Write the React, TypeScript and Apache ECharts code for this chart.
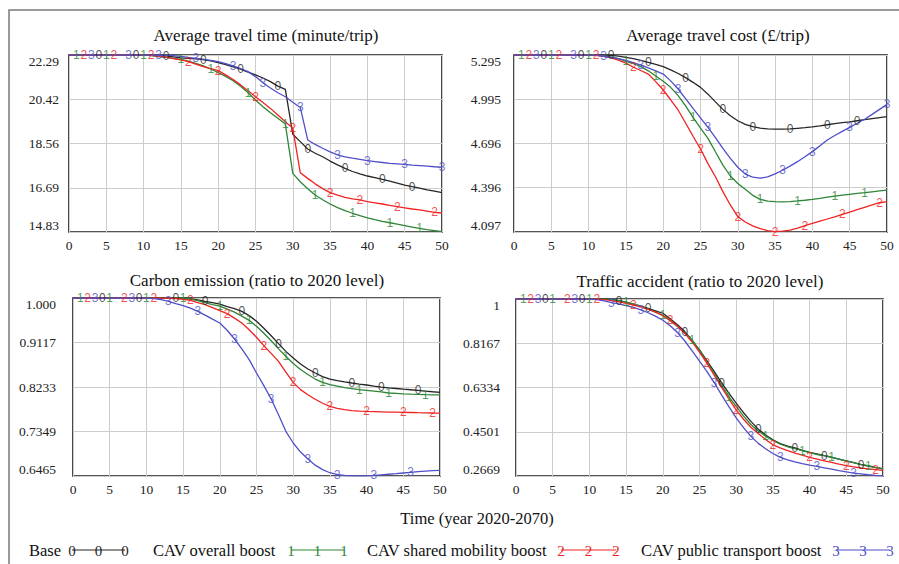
import React, { useEffect, useRef } from 'react';
import * as echarts from 'echarts';

const FONT_SERIF = 'Liberation Serif';
const FONT_SANS = 'Liberation Sans';

const years = Array.from({ length: 51 }, (_, i) => i);

// Average travel time (minute/trip)
const timeBase = [22.29, 22.29, 22.29, 22.29, 22.29, 22.29, 22.29, 22.29, 22.29, 22.29, 22.29, 22.29, 22.29,
  22.25, 22.21, 22.17, 22.15, 22.13, 22.10, 22.04, 21.97, 21.88, 21.79, 21.69, 21.57, 21.45, 21.32, 21.17, 20.98, 20.84,
  18.95, 18.64, 18.33, 18.15, 18.00, 17.82, 17.66, 17.51, 17.38, 17.28, 17.19, 17.12, 17.05, 16.97, 16.89, 16.81, 16.74,
  16.68, 16.61, 16.55, 16.49];
const timeOverall = [22.29, 22.29, 22.29, 22.29, 22.29, 22.29, 22.29, 22.29, 22.29, 22.29, 22.29,
  22.26, 22.22, 22.19, 22.15, 22.11, 22.03, 21.94, 21.83, 21.70, 21.55,
  21.39, 21.21, 20.97, 20.70, 20.39, 20.11, 19.86, 19.62, 19.38, 17.30,
  16.95, 16.65, 16.39, 16.19, 16.01, 15.86, 15.73, 15.62, 15.52, 15.43,
  15.35, 15.28, 15.22, 15.16, 15.10, 15.04, 14.98, 14.93, 14.89, 14.85];
const timeShared = [22.29, 22.29, 22.29, 22.29, 22.29, 22.29, 22.29, 22.29, 22.29, 22.29, 22.29,
  22.27, 22.24, 22.20, 22.14, 22.08, 22.01, 21.91, 21.80, 21.72, 21.63,
  21.45, 21.26, 21.03, 20.78, 20.53, 20.29, 20.04, 19.76, 19.48, 19.20,
  17.33, 17.09, 16.86, 16.66, 16.49, 16.38, 16.29, 16.23, 16.18, 16.11,
  16.06, 16.01, 15.95, 15.90, 15.85, 15.80, 15.76, 15.71, 15.66, 15.63];
const timePublic = [22.29, 22.29, 22.29, 22.29, 22.29, 22.29, 22.29, 22.29, 22.29, 22.29, 22.29, 22.29, 22.29,
  22.28, 22.26, 22.23, 22.19, 22.15, 22.11, 22.06, 22.01,
  21.93, 21.83, 21.72, 21.59, 21.38, 21.12, 20.90, 20.70, 20.53, 20.30,
  20.08, 18.71, 18.52, 18.36, 18.21, 18.08, 18.00, 17.94, 17.89, 17.84,
  17.80, 17.76, 17.72, 17.70, 17.68, 17.65, 17.63, 17.61, 17.58, 17.56];

// Average travel cost (£/trip)
const costBase = [5.295, 5.295, 5.295, 5.295, 5.295, 5.295, 5.295, 5.295, 5.295, 5.295, 5.295, 5.295, 5.295,
  5.292, 5.287, 5.279, 5.270, 5.258, 5.245, 5.232, 5.216,
  5.194, 5.170, 5.142, 5.110, 5.076, 5.030, 4.978, 4.927, 4.884, 4.850,
  4.826, 4.810, 4.800, 4.795, 4.793, 4.793, 4.795, 4.799, 4.803, 4.808,
  4.815, 4.823, 4.830, 4.837, 4.843, 4.850, 4.857, 4.864, 4.871, 4.878];
const costOverall = [5.295, 5.295, 5.295, 5.295, 5.295, 5.295, 5.295, 5.295, 5.295, 5.295, 5.295,
  5.293, 5.289, 5.282, 5.270, 5.252, 5.236, 5.216, 5.188, 5.153, 5.117,
  5.076, 5.020, 4.950, 4.873, 4.800, 4.731, 4.640, 4.550, 4.476, 4.425,
  4.386, 4.345, 4.318, 4.306, 4.302, 4.301, 4.303, 4.307, 4.312, 4.318,
  4.325, 4.333, 4.340, 4.346, 4.352, 4.358, 4.363, 4.369, 4.375, 4.381];
const costShared = [5.295, 5.295, 5.295, 5.295, 5.295, 5.295, 5.295, 5.295, 5.295, 5.295, 5.295,
  5.292, 5.285, 5.275, 5.260, 5.240, 5.212, 5.190, 5.166, 5.115, 5.058,
  4.992, 4.923, 4.835, 4.745, 4.659, 4.560, 4.471, 4.370, 4.280, 4.201,
  4.165, 4.138, 4.120, 4.106, 4.099, 4.103, 4.110, 4.124, 4.140, 4.155,
  4.170, 4.185, 4.200, 4.216, 4.232, 4.248, 4.264, 4.280, 4.295, 4.302];
const costPublic = [5.295, 5.295, 5.295, 5.295, 5.295, 5.295, 5.295, 5.295, 5.295, 5.295, 5.295, 5.295,
  5.285, 5.279, 5.270, 5.258, 5.244, 5.227, 5.208, 5.188, 5.166,
  5.120, 5.065, 5.000, 4.934, 4.870, 4.805, 4.735, 4.663, 4.595, 4.535,
  4.489, 4.468, 4.462, 4.470, 4.490, 4.515, 4.543, 4.573, 4.606, 4.641,
  4.680, 4.720, 4.750, 4.778, 4.805, 4.833, 4.860, 4.893, 4.927, 4.961];

// Carbon emission (ratio to 2020 level)
const carbonBase = [1.000, 1.000, 1.000, 1.000, 1.000, 1.000, 1.000, 1.000, 1.000, 1.000, 1.000, 1.000, 1.000, 1.000, 1.000, 1.000,
  0.9985, 0.9962, 0.9934, 0.991, 0.988,
  0.983, 0.979, 0.9735, 0.965, 0.9537, 0.940, 0.925, 0.9093, 0.894, 0.881,
  0.869, 0.859, 0.851, 0.844, 0.839, 0.836, 0.8335, 0.8312, 0.829, 0.8272,
  0.825, 0.8232, 0.8216, 0.8203, 0.819, 0.8178, 0.8166, 0.815, 0.8138, 0.8127];
const carbonOverall = [1.000, 1.000, 1.000, 1.000, 1.000, 1.000, 1.000, 1.000, 1.000, 1.000, 1.000, 1.000, 1.000, 1.000, 1.000, 1.000,
  0.998, 0.995, 0.991, 0.987, 0.984,
  0.978, 0.972, 0.964, 0.9556, 0.944, 0.930, 0.915, 0.899, 0.8842, 0.870,
  0.858, 0.848, 0.839, 0.8325, 0.828, 0.825, 0.822, 0.820, 0.818, 0.8165,
  0.815, 0.8135, 0.8113, 0.8105, 0.8097, 0.809, 0.8085, 0.808, 0.8077, 0.8075];
const carbonShared = [1.000, 1.000, 1.000, 1.000, 1.000, 1.000, 1.000, 1.000, 1.000, 1.000, 1.000, 1.000, 1.000,
  0.9995, 0.999, 0.9975, 0.9954, 0.991, 0.9868, 0.981, 0.975,
  0.9689, 0.960, 0.9503, 0.937, 0.922, 0.9053, 0.890, 0.8742, 0.853, 0.8325,
  0.818, 0.808, 0.799, 0.791, 0.7849, 0.781, 0.7782, 0.7765, 0.7755, 0.7749,
  0.7745, 0.774, 0.7735, 0.7732, 0.7729, 0.7726, 0.7722, 0.7719, 0.7716, 0.7714];
const carbonPublic = [1.000, 1.000, 1.000, 1.000, 1.000, 1.000, 1.000, 1.000, 1.000, 1.000, 1.000,
  0.999, 0.997, 0.9934, 0.989, 0.985, 0.980, 0.9735, 0.966, 0.958, 0.9503,
  0.936, 0.9186, 0.899, 0.8775, 0.851, 0.826, 0.7994, 0.768, 0.7352, 0.712,
  0.694, 0.6803, 0.668, 0.6591, 0.653, 0.6492, 0.6475, 0.6468, 0.6467, 0.6470,
  0.6478, 0.6489, 0.650, 0.6511, 0.6525, 0.6538, 0.655, 0.656, 0.657, 0.6578];

// Traffic accident (ratio to 2020 level)
const accidentBase = [1, 1, 1, 1, 1, 1, 1, 1, 1, 1, 1, 1, 1,
  0.998, 0.993, 0.987, 0.979, 0.970, 0.961, 0.951, 0.941,
  0.918, 0.893, 0.865, 0.828, 0.789, 0.745, 0.700, 0.654, 0.610, 0.569,
  0.529, 0.493, 0.461, 0.437, 0.417, 0.401, 0.391, 0.383, 0.373, 0.365,
  0.358, 0.351, 0.344, 0.337, 0.330, 0.322, 0.314, 0.308, 0.302, 0.296];
const accidentOverall = [1, 1, 1, 1, 1, 1, 1, 1, 1, 1, 1, 1, 1,
  0.998, 0.993, 0.987, 0.979, 0.969, 0.958, 0.946, 0.932,
  0.910, 0.886, 0.860, 0.830, 0.787, 0.740, 0.692, 0.643, 0.596, 0.555,
  0.515, 0.480, 0.453, 0.432, 0.414, 0.399, 0.388, 0.380, 0.372, 0.364,
  0.356, 0.351, 0.345, 0.337, 0.329, 0.322, 0.315, 0.310, 0.303, 0.297];
const accidentShared = [1, 1, 1, 1, 1, 1, 1, 1, 1, 1, 1,
  0.999, 0.997, 0.993, 0.988, 0.982, 0.975, 0.967, 0.958, 0.946, 0.931,
  0.913, 0.888, 0.858, 0.822, 0.780, 0.734, 0.685, 0.635, 0.586, 0.541,
  0.502, 0.469, 0.443, 0.418, 0.396, 0.383, 0.372, 0.362, 0.353, 0.344,
  0.337, 0.330, 0.323, 0.316, 0.310, 0.305, 0.300, 0.296, 0.293, 0.290];
const accidentPublic = [1, 1, 1, 1, 1, 1, 1, 1, 1, 1, 1,
  0.997, 0.992, 0.985, 0.980, 0.973, 0.965, 0.955, 0.943, 0.929, 0.912,
  0.889, 0.861, 0.826, 0.785, 0.743, 0.700, 0.654, 0.603, 0.554, 0.508,
  0.467, 0.431, 0.402, 0.380, 0.360, 0.344, 0.334, 0.325, 0.318, 0.312,
  0.307, 0.301, 0.295, 0.289, 0.284, 0.279, 0.276, 0.272, 0.269, 0.267];

// Tick labels
const timeTicks = ['14.83', '16.69', '18.56', '20.42', '22.29'];
const costTicks = ['4.097', '4.396', '4.696', '4.995', '5.295'];
const carbonTicks = ['0.6465', '0.7349', '0.8233', '0.9117', '1.000'];
const accidentTicks = ['0.2669', '0.4501', '0.6334', '0.8167', '1'];

// Years at which the run digits are printed on each curve
const topMarkBase = [4, 9, 13, 18, 23, 28, 32, 37, 42, 46];
const topMarkOverall = [1, 5, 10, 15, 19, 24, 29, 33, 38, 43, 47];
const topMarkShared = [2, 6, 11, 16, 20, 25, 30, 35, 39, 44, 49];
const topMarkPublic = [3, 8, 12, 17, 22, 26, 31, 36, 40, 45, 50];
const botMarkBase = [4, 9, 14, 18, 23, 28, 33, 38, 42, 47];
const botMarkOverall = [1, 5, 10, 15, 20, 24, 29, 34, 39, 43, 48];
const botMarkShared = [2, 7, 11, 16, 21, 26, 30, 35, 40, 45, 49];
const botMarkPublic = [3, 8, 13, 17, 22, 27, 32, 36, 41, 46];

const scenarioNames = ['Base', 'CAV overall boost', 'CAV shared mobility boost', 'CAV public transport boost'];
const scenarioDigits = ['0', '1', '2', '3'];
const scenarioColors = ['#262626', '#2d8535', '#f02222', '#4f4fc8'];

const panelTitles = [
  'Average travel time (minute/trip)',
  'Average travel cost (£/trip)',
  'Carbon emission (ratio to 2020 level)',
  'Traffic accident (ratio to 2020 level)',
];
const xTitle = 'Time (year 2020-2070)';

const panels = [
  {
    title: panelTitles[0], tx: 266, ty: 35,
    grid: { left: 69, top: 55, width: 373, height: 177 }, lm: 10,
    min: 14.83, max: 22.29, ticks: timeTicks,
    series: [timeBase, timeOverall, timeShared, timePublic],
    marks: [topMarkBase, topMarkOverall, topMarkShared, topMarkPublic],
  },
  {
    title: panelTitles[1], tx: 718, ty: 35,
    grid: { left: 514, top: 55, width: 373, height: 177 }, lm: 13,
    min: 4.097, max: 5.295, ticks: costTicks,
    series: [costBase, costOverall, costShared, costPublic],
    marks: [topMarkBase, topMarkOverall, topMarkShared, topMarkPublic],
  },
  {
    title: panelTitles[2], tx: 257, ty: 280,
    grid: { left: 73, top: 298, width: 367, height: 178 }, lm: 17,
    min: 0.6465, max: 1.0, ticks: carbonTicks,
    series: [carbonBase, carbonOverall, carbonShared, carbonPublic],
    marks: [botMarkBase, botMarkOverall, botMarkShared, botMarkPublic],
  },
  {
    title: panelTitles[3], tx: 700, ty: 281,
    grid: { left: 516, top: 299, width: 367, height: 177 }, lm: 16,
    min: 0.2669, max: 1.0, ticks: accidentTicks,
    series: [accidentBase, accidentOverall, accidentShared, accidentPublic],
    marks: [botMarkBase, botMarkOverall, botMarkShared, botMarkPublic],
  },
];

// legend layout: [textLeft, firstDigitCentre, lastDigitCentre]
const legendPos = [
  [29, 72, 125],
  [153, 291, 344],
  [367, 561, 616],
  [641, 836, 890],
];

function buildOption() {
  const grid = panels.map((p) => ({
    ...p.grid,
    show: true,
    borderColor: '#1c1c1c',
    borderWidth: 1.6,
    backgroundColor: '#ffffff',
    containLabel: false,
  }));
  const splitLine = { show: true, lineStyle: { color: '#cdcdcd', width: 1 } };
  const xAxis = panels.map((p, i) => ({
    type: 'value',
    gridIndex: i,
    min: 0,
    max: 50,
    interval: 5,
    axisLine: { show: false },
    axisTick: { show: false },
    splitLine,
    axisLabel: { color: '#222', fontFamily: FONT_SERIF, fontSize: 13.5, margin: 6 },
  }));
  const yAxis = panels.map((p, i) => {
    const interval = (p.max - p.min) / 4;
    return {
      type: 'value',
      gridIndex: i,
      min: p.min,
      max: p.max,
      interval,
      axisLine: { show: false },
      axisTick: { show: false },
      splitLine,
      axisLabel: {
        color: '#222',
        fontFamily: FONT_SERIF,
        fontSize: 13.5,
        lineHeight: 13,
        margin: p.lm,
        formatter: (v: number) => {
          const k = Math.round((v - p.min) / interval);
          const s = p.ticks[k] ?? '';
          if (k === 0) return s + '\n';
          if (k === 4) return '\n' + s;
          return s;
        },
      },
    };
  });
  const series: any[] = [];
  panels.forEach((p, i) => {
    p.series.forEach((arr, s) => {
      series.push({
        type: 'line',
        xAxisIndex: i,
        yAxisIndex: i,
        data: years.map((y, k) => [y, arr[k]]),
        showSymbol: false,
        symbol: 'none',
        lineStyle: { color: scenarioColors[s], width: 1.3 },
        itemStyle: { color: scenarioColors[s] },
        silent: true,
        z: 2,
      });
      series.push({
        type: 'scatter',
        xAxisIndex: i,
        yAxisIndex: i,
        data: p.marks[s].map((t) => [years[t], arr[t]]),
        symbol: 'circle',
        symbolSize: 1,
        itemStyle: { color: 'rgba(0,0,0,0)' },
        label: {
          show: true,
          position: 'inside',
          formatter: scenarioDigits[s],
          color: scenarioColors[s],
          fontSize: 12,
          fontFamily: FONT_SANS,
        },
        silent: true,
        z: 3,
      });
    });
  });

  const graphic: any[] = [
    {
      type: 'rect',
      shape: { x: 9, y: 10, width: 900, height: 600 },
      style: { fill: 'none', stroke: '#7a7a7a', lineWidth: 1.5 },
      silent: true,
    },
  ];
  panels.forEach((p) => {
    graphic.push({
      type: 'text',
      x: p.tx,
      y: p.ty,
      style: { text: p.title, fontFamily: FONT_SERIF, fontSize: 17, fill: '#111', textAlign: 'center', textVerticalAlign: 'middle' },
    });
  });
  graphic.push({
    type: 'text',
    x: 477,
    y: 518,
    style: { text: xTitle, fontFamily: FONT_SERIF, fontSize: 16.5, fill: '#111', textAlign: 'center', textVerticalAlign: 'middle' },
  });
  const ly = 550;
  scenarioNames.forEach((name, s) => {
    const [tl, l0, l1] = legendPos[s];
    graphic.push({
      type: 'text',
      x: tl,
      y: ly,
      style: { text: name, fontFamily: FONT_SERIF, fontSize: 16.5, fill: '#111', textAlign: 'left', textVerticalAlign: 'middle' },
    });
    graphic.push({
      type: 'line',
      shape: { x1: l0, y1: ly, x2: l1, y2: ly },
      style: { stroke: scenarioColors[s], lineWidth: 1.2 },
    });
    [l0, (l0 + l1) / 2, l1].forEach((x) => {
      graphic.push({
        type: 'text',
        x,
        y: ly + 1,
        style: { text: scenarioDigits[s], fontFamily: FONT_SERIF, fontSize: 15, fill: scenarioColors[s], textAlign: 'center', textVerticalAlign: 'middle' },
      });
    });
  });

  return {
    animation: false,
    backgroundColor: '#ffffff',
    grid,
    xAxis,
    yAxis,
    series,
    graphic,
  };
}

export default function App() {
  const ref = useRef<HTMLDivElement>(null);
  useEffect(() => {
    if (!ref.current) return;
    const chart = echarts.init(ref.current, undefined, { renderer: 'svg' });
    chart.setOption(buildOption() as any);
    return () => chart.dispose();
  }, []);
  return (
    <div
      ref={ref}
      style={{ position: 'fixed', left: 0, top: 0, width: 899, height: 564, background: '#fff' }}
    />
  );
}
